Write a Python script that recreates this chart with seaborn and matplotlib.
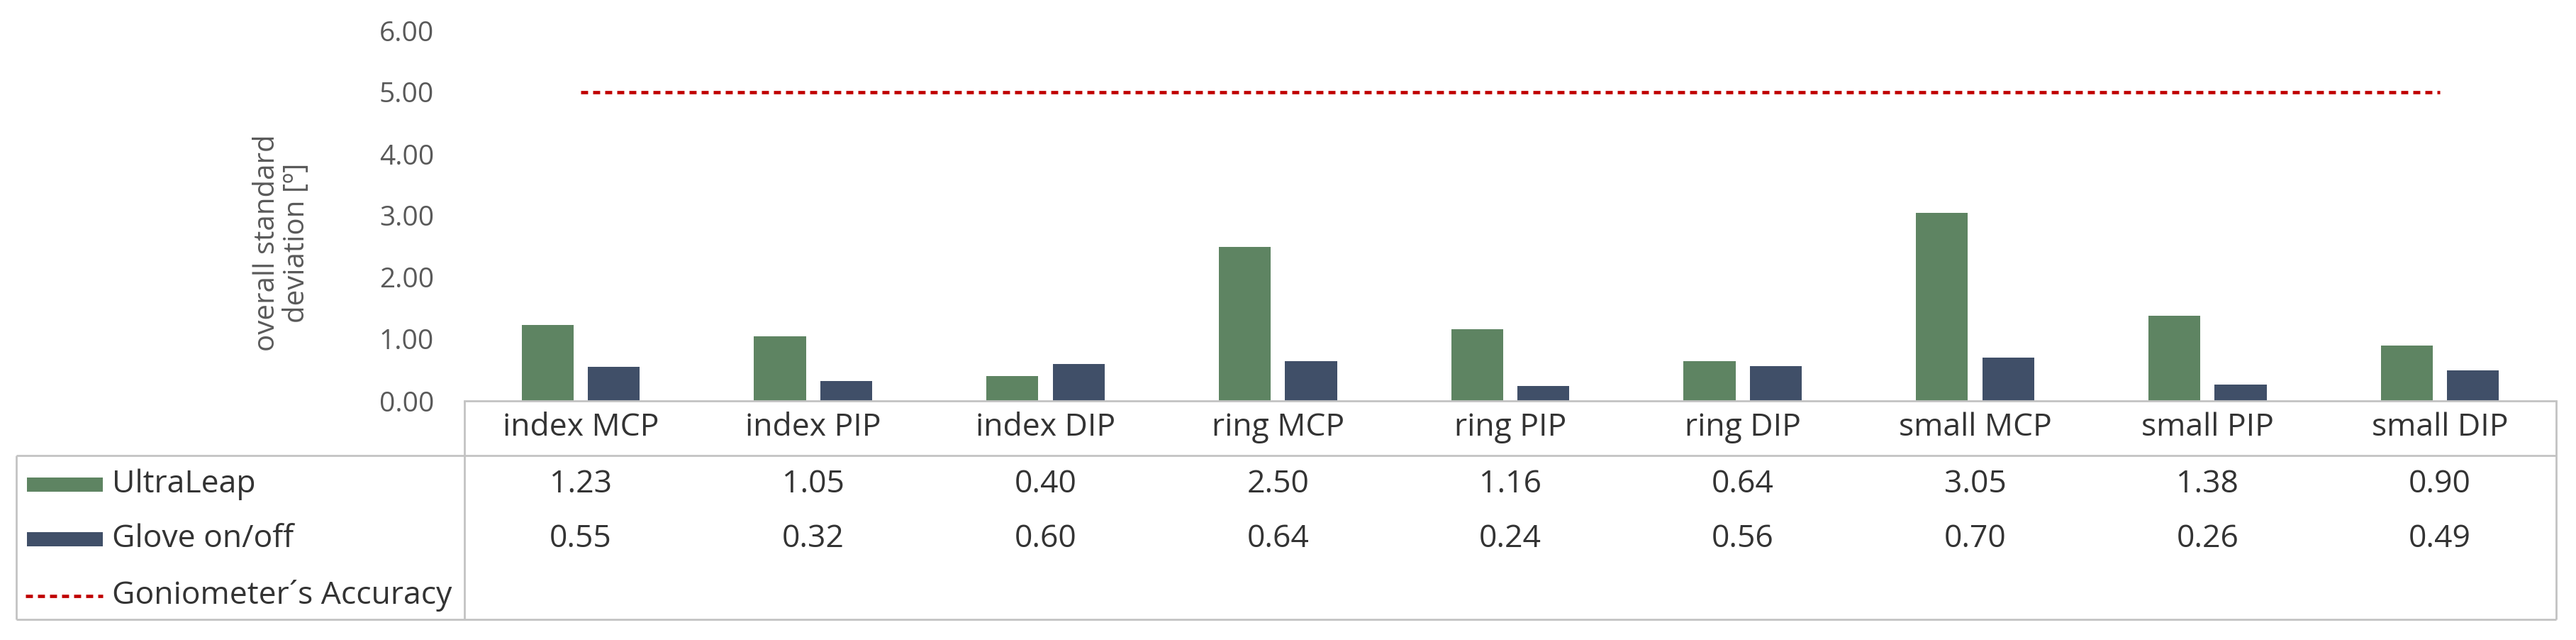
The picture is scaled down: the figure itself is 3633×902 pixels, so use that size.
import matplotlib
matplotlib.use("Agg")
import matplotlib.pyplot as plt
import matplotlib.transforms as mtransforms
from matplotlib.patches import Rectangle
from matplotlib.lines import Line2D
import seaborn as sns
import pandas as pd

# ---------------- data ----------------
categories = ["index MCP", "index PIP", "index DIP", "ring MCP", "ring PIP",
              "ring DIP", "small MCP", "small PIP", "small DIP"]
ultraleap = [1.23, 1.05, 0.40, 2.50, 1.16, 0.64, 3.05, 1.38, 0.90]
glove = [0.55, 0.32, 0.60, 0.64, 0.24, 0.56, 0.70, 0.26, 0.49]
goniometer = [5.00, 5.00, 5.00, 5.00, 5.00, 5.00, 5.00, 5.00, 5.00]
series_names = ["UltraLeap", "Glove on/off", "Goniometer\u00b4s Accuracy"]
y_ticks = [0, 1, 2, 3, 4, 5, 6]
y_label = "overall standard\ndeviation [\u00ba]"

GREEN = "#5E8462"
NAVY = "#404F68"
RED = "#C00000"
GRID = "#C3C3C3"
TXT = "#333333"
GRAY = "#595959"

sns.set_theme(style="white")
plt.rcParams["font.family"] = ["Open Sans", "DejaVu Sans"]

W, H = 3633, 902
fig = plt.figure(figsize=(W / 100, H / 100), dpi=100)

# pixel geometry
x_left, x_right = 655, 3605
y_base, y_top = 565, 43
y_head, y_bottom = 642, 873
x_table_left = 23

ax = fig.add_axes([x_left / W, 1 - y_base / H, (x_right - x_left) / W, (y_base - y_top) / H])

df = pd.DataFrame({
    "joint": categories * 2,
    "series": [series_names[0]] * len(categories) + [series_names[1]] * len(categories),
    "value": ultraleap + glove,
})
sns.barplot(data=df, x="joint", y="value", hue="series", order=categories,
            hue_order=series_names[:2],
            palette={series_names[0]: GREEN, series_names[1]: NAVY},
            saturation=1, width=0.57, gap=0.217, linewidth=0, legend=False, ax=ax)

ax.plot(range(len(categories)), goniometer, color=RED, lw=3.4,
        linestyle=(0, (2.1, 1.5)), dash_capstyle="butt", zorder=3)

ax.set_xlim(-0.5, len(categories) - 0.5)
ax.set_ylim(0, 6)
ax.set_yticks(y_ticks)
ax.set_yticklabels([f"{v:.2f}" for v in y_ticks])
ax.tick_params(axis="y", length=0, pad=31, labelsize=28, labelcolor=GRAY)
ax.tick_params(axis="x", length=0, labelbottom=False)
ax.set_xlabel("")
ax.set_ylabel("")
for s in ["top", "left", "right"]:
    ax.spines[s].set_visible(False)
ax.spines["bottom"].set_color(GRID)
ax.spines["bottom"].set_linewidth(2)
ax.grid(False)
ax.patch.set_alpha(0)

# y label
fig.text(398 / W, 1 - 342 / H, y_label, rotation=90, ha="center", va="center",
         fontsize=29, color=GRAY, linespacing=1.05)

# ---------------- data table ----------------
tab = fig.add_axes([0, 0, 1, 1])
tab.set_xlim(0, W)
tab.set_ylim(H, 0)
tab.axis("off")
tab.patch.set_alpha(0)

lkw = dict(color=GRID, lw=2, solid_capstyle="butt")
tab.plot([x_table_left, x_right], [y_head, y_head], **lkw)
tab.plot([x_table_left, x_right], [y_bottom, y_bottom], **lkw)
tab.plot([x_table_left, x_table_left], [y_head, y_bottom], **lkw)
tab.plot([x_left, x_left], [y_base, y_bottom], **lkw)
tab.plot([x_right, x_right], [y_base, y_bottom], **lkw)

blend = mtransforms.blended_transform_factory(ax.transData, tab.transData)
row_y = [683, 760, 840]
for i, cat in enumerate(categories):
    tab.text(i, 603, cat, transform=blend, ha="center", va="center",
             fontsize=32, color=TXT)
    tab.text(i, row_y[0], f"{ultraleap[i]:.2f}", transform=blend, ha="center",
             va="center", fontsize=32, color=TXT)
    tab.text(i, row_y[1], f"{glove[i]:.2f}", transform=blend, ha="center",
             va="center", fontsize=32, color=TXT)

# legend keys
tab.add_patch(Rectangle((38, row_y[0] - 10), 107, 20, color=GREEN, lw=0))
tab.add_patch(Rectangle((38, row_y[1] - 10), 107, 20, color=NAVY, lw=0))
tab.add_line(Line2D([36, 145], [row_y[2], row_y[2]], color=RED, lw=3.4,
                    linestyle=(0, (2.1, 1.5)), dash_capstyle="butt"))
for yy, name in zip(row_y, series_names):
    tab.text(158, yy, name, ha="left", va="center", fontsize=32, color=TXT)

fig.savefig("out.png", dpi=100, facecolor="white")
